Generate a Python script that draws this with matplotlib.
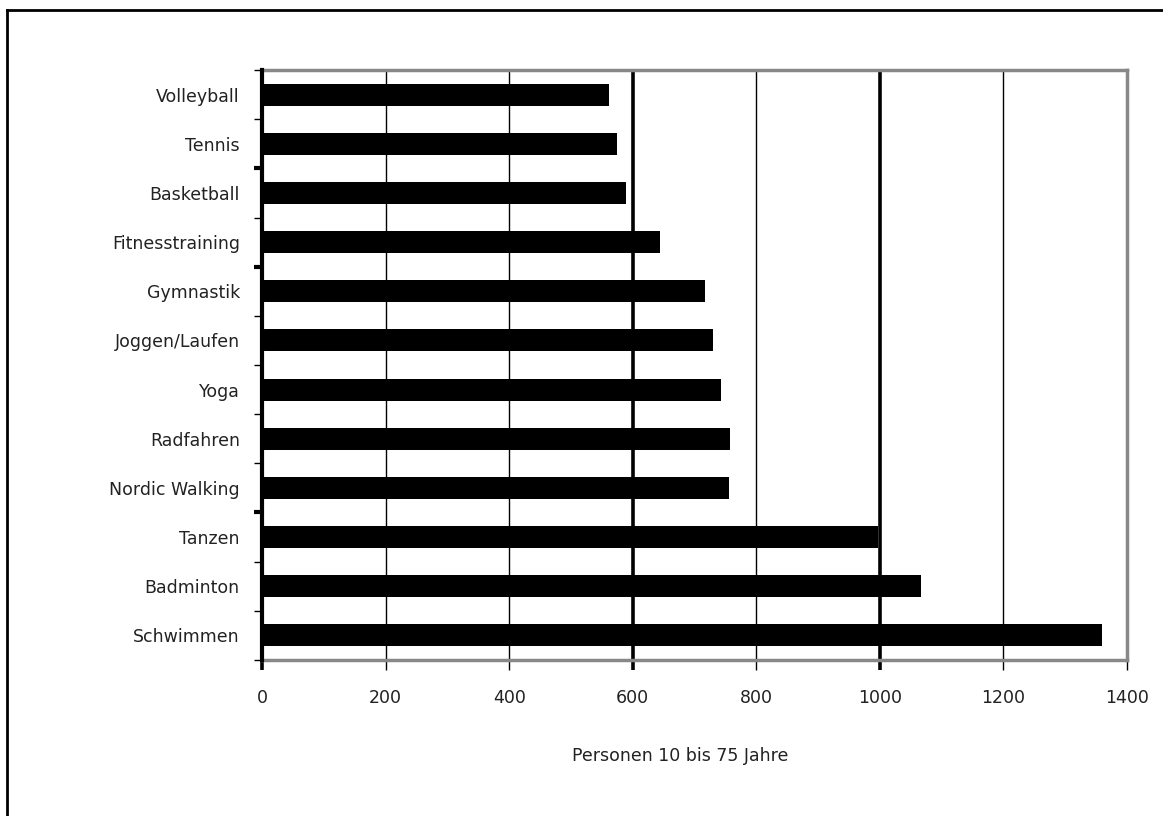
import numpy as np
import matplotlib.pyplot as plt
from matplotlib.lines import Line2D

# Données
sportarten = ["Volleyball", "Tennis", "Basketball", "Fitnesstraining", "Gymnastik",
              "Joggen/Laufen", "Yoga", "Radfahren", "Nordic Walking", "Tanzen",
              "Badminton", "Schwimmen"]
personen = [562, 575, 589, 644, 717, 730, 743, 757, 756, 997, 1066, 1359]
x_ticks = [0, 200, 400, 600, 800, 1000, 1200, 1400]
x_label = "Personen 10 bis 75 Jahre"

plt.rcParams['font.family'] = ['DejaVu Sans']
taille = 12.5
couleur_texte = "#222222"

fig = plt.figure(figsize=(11.63, 8.16), dpi=100)
ax = fig.add_axes([0.2253, 0.1912, 0.7437, 0.7230])

y = np.arange(len(sportarten))
ax.barh(y, personen, height=0.45, color="black", zorder=3)
ax.set_ylim(len(sportarten) - 0.5, -0.5)
ax.set_xlim(0, 1400)

# Lignes de grille verticales
for v in x_ticks[1:-1]:
    lw = 2.6 if v in (600, 1000) else 1.0
    ax.axvline(v, color="black", lw=lw, zorder=1)

ax.set_xticks(x_ticks)
ax.set_xticklabels([str(v) for v in x_ticks])
ax.tick_params(axis="x", direction="out", length=7, width=1, color="black",
               pad=14, labelsize=taille, labelcolor=couleur_texte)
for t, v in zip(ax.xaxis.get_major_ticks(), x_ticks):
    if v in (0, 600, 1000):
        t.tick1line.set_markeredgewidth(2.6)
    if v == 1400:
        t.tick1line.set_color("#888888")

ax.set_yticks(y)
ax.set_yticklabels(sportarten)
ax.tick_params(axis="y", which="major", length=0, pad=16, labelsize=taille,
               labelcolor=couleur_texte)
ax.set_yticks(np.arange(len(sportarten) + 1) - 0.5, minor=True)
ax.tick_params(axis="y", which="minor", direction="out", length=6, width=1,
               color="black")
for i, t in enumerate(ax.yaxis.get_minor_ticks()):
    if i in (2, 4, 9):
        t.tick1line.set_markeredgewidth(3)

# Cadre
for s in ("top", "right", "bottom"):
    ax.spines[s].set_color("#888888")
    ax.spines[s].set_linewidth(2.5)
ax.spines["left"].set_color("black")
ax.spines["left"].set_linewidth(3)
ax.spines["left"].set_zorder(4)

ax.set_xlabel(x_label, fontsize=taille, color=couleur_texte)
ax.xaxis.set_label_coords(0.484, -0.148)

# Bordure de la figure (haut et gauche)
fig.add_artist(Line2D([7 / 1163, 7 / 1163], [0, 1 - 10 / 816],
                      transform=fig.transFigure, color="black", lw=2))
fig.add_artist(Line2D([7 / 1163, 1], [1 - 10 / 816, 1 - 10 / 816],
                      transform=fig.transFigure, color="black", lw=2))

fig.savefig("out.png", dpi=100)
